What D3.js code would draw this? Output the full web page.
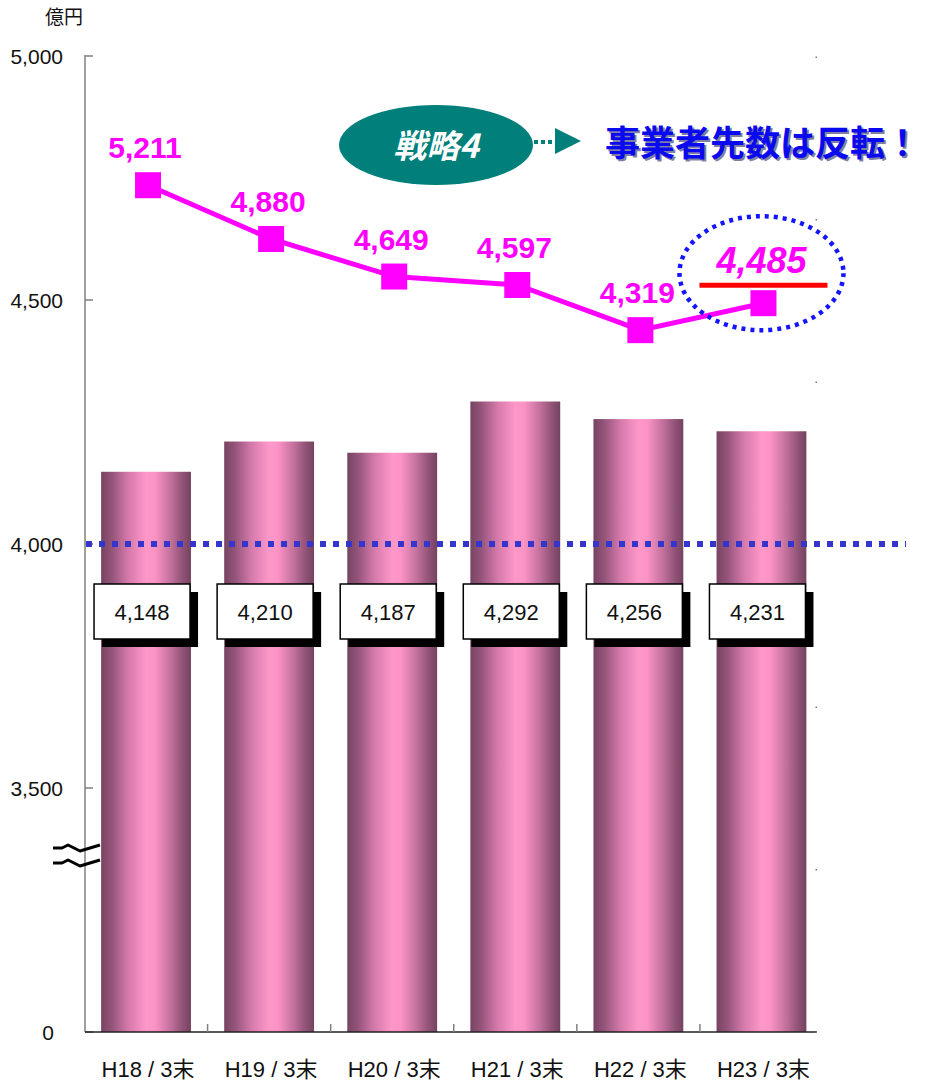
<!DOCTYPE html>
<html>
<head>
<meta charset="utf-8">
<script src="https://cdn.jsdelivr.net/npm/d3@7/dist/d3.min.js"></script>
<style>
  html, body { margin: 0; padding: 0; background: #fff; }
  svg { display: block; }
  text { font-family: "Liberation Sans", Arial, "Noto Sans CJK JP", sans-serif; }
  .jp { font-family: "Noto Sans CJK JP", "Liberation Sans", sans-serif; }
</style>
</head>
<body>
<svg id="chart" width="930" height="1083"></svg>
<script>
// Fiscal year-end periods
const categories = ["H18 / 3末", "H19 / 3末", "H20 / 3末", "H21 / 3末", "H22 / 3末", "H23 / 3末"];
// Bars: loan balance (億円)
const barValues = [4148, 4210, 4187, 4292, 4256, 4231];
// Line: business customer count
const lineValues = [5211, 4880, 4649, 4597, 4319, 4485];
// Left axis tick values and labels
const yTicks = [0, 3500, 4000, 4500, 5000];
const yTickLabels = ["0", "3,500", "4,000", "4,500", "5,000"];
// Hidden secondary axis ticks for the line series
const y2Ticks = [0, 1000, 2000, 3000, 4000, 5000, 6000];
const unitLabel = "億円";
const strategyLabel = "戦略4";
const headline = "事業者先数は反転！";
const referenceLine = 4000;

const svg = d3.select("#chart");
const fmt = d3.format(",");

// Scales: left axis is broken between 0 and 3,500
const x = d3.scaleBand().domain(categories).range([84.5, 823]).padding(0);
const y = d3.scaleLinear().domain([0, 3500, 5000]).range([1032, 788, 56]);
const y2 = d3.scaleLinear().domain([0, 6000]).range([1032, 57]);
const barW = x.bandwidth() * 0.73;
const cx = d => x(d) + x.bandwidth() / 2;

// Bar gradient (cylindrical shading)
const defs = svg.append("defs");
const grad = defs.append("linearGradient").attr("id", "barGrad")
  .attr("x1", "0%").attr("x2", "100%").attr("y1", "0%").attr("y2", "0%");
[[0, "#774462"], [0.12, "#94547a"], [0.3, "#d479ab"], [0.5, "#ff97c9"],
 [0.6, "#fb93c5"], [0.78, "#c06f9b"], [0.9, "#935478"], [1, "#744360"]]
  .forEach(([o, c]) => grad.append("stop").attr("offset", o).attr("stop-color", c));

// Bars
svg.append("g").selectAll("rect").data(categories).join("rect")
  .attr("x", d => cx(d) - barW / 2)
  .attr("y", (d, i) => y(barValues[i]))
  .attr("width", barW)
  .attr("height", (d, i) => y(0) - y(barValues[i]))
  .attr("fill", "url(#barGrad)");

// Left axis
const axisColor = "#808080";
svg.append("line").attr("x1", 85).attr("x2", 85).attr("y1", y(5000) - 1).attr("y2", y(0))
  .attr("stroke", axisColor).attr("stroke-width", 1.5);
svg.append("g").selectAll("line").data(yTicks).join("line")
  .attr("x1", 85).attr("x2", 93)
  .attr("y1", d => y(d)).attr("y2", d => y(d))
  .attr("stroke", axisColor).attr("stroke-width", 1.5);
svg.append("g").selectAll("text").data(yTicks).join("text")
  .attr("x", (d) => d === 0 ? 54 : 63)
  .attr("y", d => y(d) + 8)
  .attr("text-anchor", "end")
  .attr("font-size", 21)
  .attr("fill", "#111")
  .text((d, i) => yTickLabels[i]);
svg.append("text").attr("class", "jp").attr("x", 45).attr("y", 24)
  .attr("font-size", 19).attr("fill", "#111").text(unitLabel);

// Bottom axis
svg.append("line").attr("x1", 85).attr("x2", 817).attr("y1", y(0)).attr("y2", y(0))
  .attr("stroke", "#222").attr("stroke-width", 1.5);
svg.append("g").selectAll("line").data(categories.slice(1)).join("line")
  .attr("x1", d => x(d)).attr("x2", d => x(d))
  .attr("y1", y(0) - 8).attr("y2", y(0))
  .attr("stroke", axisColor).attr("stroke-width", 1.5);
svg.append("g").selectAll("text").data(categories).join("text")
  .attr("x", d => cx(d) + 2)
  .attr("y", 1077)
  .attr("text-anchor", "middle")
  .attr("font-size", 22)
  .attr("fill", "#111")
  .text(d => d);

// Secondary axis ticks (small marks on the right)
svg.append("g").selectAll("rect").data(y2Ticks).join("rect")
  .attr("x", 815.5).attr("y", d => y2(d) - 0.5)
  .attr("width", 1.5).attr("height", 1.5).attr("fill", "#777");

// Axis break marks
const brk = svg.append("g").attr("fill", "none").attr("stroke", "#000")
  .attr("stroke-width", 3).attr("stroke-linejoin", "round");
[0, 15].forEach(dy => {
  brk.append("path")
    .attr("d", `M53,${848 + dy} L62,${848 + dy} L68,${845 + dy} L80,${851 + dy} L100,${845 + dy}`);
});

// Reference line at 4,000
svg.append("line")
  .attr("x1", 86).attr("x2", 906)
  .attr("y1", y(referenceLine)).attr("y2", y(referenceLine))
  .attr("stroke", "#3535cc").attr("stroke-width", 6)
  .attr("stroke-dasharray", "6,7");

// Value boxes for bars
const boxW = 96, boxH = 55, boxTop = 584;
const boxes = svg.append("g").selectAll("g").data(categories).join("g")
  .attr("transform", d => `translate(${cx(d) - 4 - boxW / 2},${boxTop})`);
boxes.append("rect").attr("x", 8).attr("y", 8).attr("width", boxW).attr("height", boxH)
  .attr("fill", "#000");
boxes.append("rect").attr("x", 0).attr("y", 0).attr("width", boxW).attr("height", boxH)
  .attr("fill", "#fff").attr("stroke", "#000").attr("stroke-width", 1.5);
boxes.append("text").attr("x", boxW / 2).attr("y", boxH / 2 + 8)
  .attr("text-anchor", "middle").attr("font-size", 22).attr("fill", "#111")
  .text((d, i) => fmt(barValues[i]));

// Line series
const lineGen = d3.line().x((d, i) => cx(categories[i]) + 2).y(d => y2(d));
svg.append("path").datum(lineValues)
  .attr("d", lineGen)
  .attr("fill", "none").attr("stroke", "#ff00ff").attr("stroke-width", 5);
svg.append("g").selectAll("rect").data(lineValues).join("rect")
  .attr("x", (d, i) => cx(categories[i]) + 2 - 13)
  .attr("y", d => y2(d) - 13)
  .attr("width", 26).attr("height", 26)
  .attr("fill", "#ff00ff");

// Line value labels (last one emphasised)
const last = lineValues.length - 1;
svg.append("g").selectAll("text").data(lineValues.slice(0, last)).join("text")
  .attr("x", (d, i) => cx(categories[i]) - 1)
  .attr("y", d => y2(d) - 27)
  .attr("text-anchor", "middle")
  .attr("font-size", 30).attr("font-weight", "bold")
  .attr("fill", "#ff00ff")
  .text(d => fmt(d));

const lastX = cx(categories[last]);
const lastY = y2(lineValues[last]);
svg.append("text")
  .attr("x", lastX).attr("y", lastY - 30)
  .attr("text-anchor", "middle")
  .attr("font-size", 36).attr("font-weight", "bold").attr("font-style", "italic")
  .attr("fill", "#ff00ff")
  .text(fmt(lineValues[last]));
svg.append("line")
  .attr("x1", lastX - 62).attr("x2", lastX + 66)
  .attr("y1", lastY - 18).attr("y2", lastY - 18)
  .attr("stroke", "#ff0000").attr("stroke-width", 5);
svg.append("ellipse")
  .attr("cx", lastX).attr("cy", lastY - 30).attr("rx", 82).attr("ry", 57)
  .attr("fill", "none").attr("stroke", "#1414ff").attr("stroke-width", 4.5)
  .attr("stroke-dasharray", "4,5");

// Strategy callout
svg.append("ellipse").attr("cx", 436).attr("cy", 145).attr("rx", 97).attr("ry", 40)
  .attr("fill", "#007f7b");
svg.append("text").attr("class", "jp")
  .attr("x", 436).attr("y", 158)
  .attr("text-anchor", "middle")
  .attr("font-size", 33).attr("font-weight", "bold").attr("font-style", "italic")
  .attr("fill", "#fff")
  .text(strategyLabel);
svg.append("line").attr("x1", 534).attr("x2", 556).attr("y1", 142).attr("y2", 142)
  .attr("stroke", "#007f7b").attr("stroke-width", 4).attr("stroke-dasharray", "4,3");
svg.append("path").attr("d", "M555,128 L581,141 L555,154 Z").attr("fill", "#007f7b");

// Headline
svg.append("text").attr("class", "jp")
  .attr("x", 607).attr("y", 158)
  .attr("font-size", 35).attr("font-weight", "bold")
  .attr("fill", "#1a1a5a").attr("opacity", 0.55)
  .text(headline);
svg.append("text").attr("class", "jp")
  .attr("x", 605).attr("y", 156)
  .attr("font-size", 35).attr("font-weight", "bold")
  .attr("fill", "#0a0af0")
  .text(headline);
</script>
</body>
</html>
